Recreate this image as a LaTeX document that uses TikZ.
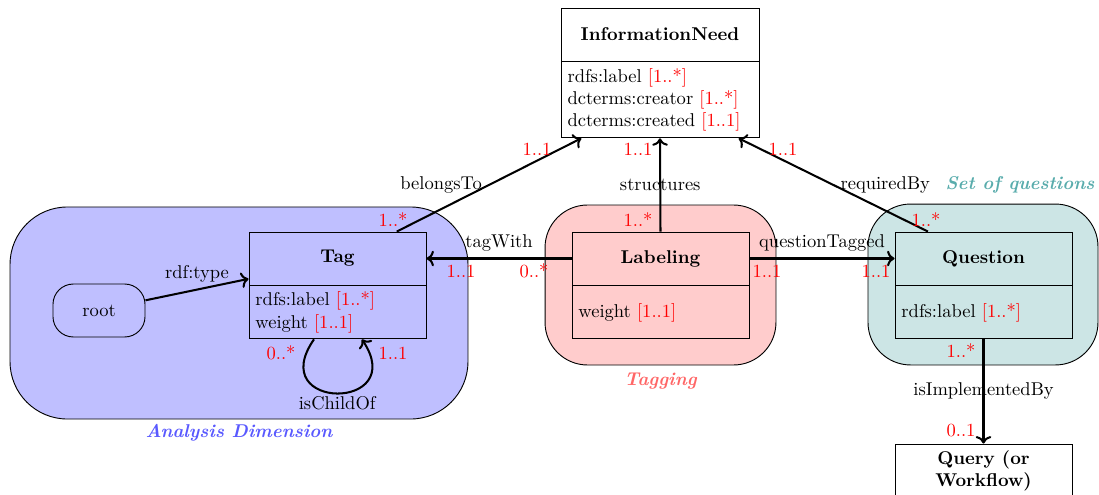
\documentclass[tikz,border=0pt]{standalone}
\usetikzlibrary{arrows.meta}
\begin{document}
\begin{tikzpicture}[x=0.54pt,y=-0.54pt,
  ctitle/.style={draw, line width=0.5pt, minimum width=95.6pt, minimum height=28.6pt, inner sep=0pt, font=\bfseries, align=center},
  cattr/.style={draw, line width=0.5pt, anchor=north, minimum height=28.6pt, inner xsep=3.5pt, inner ysep=0pt, text width=88.6pt, align=left},
  assoc/.style={line width=1.1pt, ->},
  mult/.style={text=red, inner sep=0pt},
  blob/.style={draw, line width=0.5pt},
  bloblabel/.style={font=\bfseries\itshape, inner sep=0pt}
]
\useasboundingbox (0,0) rectangle (1099,495);

% group blobs
\node[blob, fill=blue!25, rounded corners=31pt, minimum width=247.3pt, minimum height=114.5pt] (adim) at (239,313) {};
\node[blob, fill=red!20, rounded corners=23pt, minimum width=124.7pt, minimum height=86.4pt] (tagging) at (660.5,285) {};
\node[blob, fill=teal!20, rounded corners=23pt, minimum width=124.2pt, minimum height=86.9pt] (qset) at (983,284.5) {};
\node[bloblabel, text=blue!65] (adimlbl) at (239,433) {Analysis Dimension};
\node[bloblabel, text=red!60] (tagginglbl) at (660.5,381) {Tagging};
\node[bloblabel, text=teal!65] (qsetlbl) at (1020,185) {Set of questions};

% classes
\node[ctitle, fill=white, minimum width=106.9pt] (info) at (660,34.5) {InformationNeed};
\node[cattr, fill=white, minimum height=41pt, text width=99.9pt] (infoattr) at (info.south)
  {rdfs:label \textcolor{red}{[1..*]}\\dcterms:creator \textcolor{red}{[1..*]}\\dcterms:created \textcolor{red}{[1..1]}};

\node[ctitle] (tag) at (337.5,258.5) {Tag};
\node[cattr] (tagattr) at (tag.south) {rdfs:label \textcolor{red}{[1..*]}\\weight \textcolor{red}{[1..1]}};

\node[ctitle] (lab) at (660.5,258.5) {Labeling};
\node[cattr] (labattr) at (lab.south) {weight \textcolor{red}{[1..1]}};

\node[ctitle] (ques) at (983.5,258.5) {Question};
\node[cattr] (quesattr) at (ques.south) {rdfs:label \textcolor{red}{[1..*]}};

\node[ctitle, fill=white] (query) at (983.5,470.5) {Query (or\\Workflow)};

\node[draw, line width=0.5pt, rounded corners=11pt, minimum width=49.7pt, minimum height=28.6pt] (root) at (99,310.5) {root};

% connectors
\draw[assoc] ([xshift=32pt]tag.north) -- node[pos=0.5, left] (lbelongs) {belongsTo} ([xshift=-42.5pt]infoattr.south);
\draw[assoc] (lab.north) -- node[pos=0.5] (lstruct) {structures} (infoattr.south);
\draw[assoc] ([xshift=-30pt]ques.north) -- node[pos=0.5, right] (lreq) {requiredBy} ([xshift=42.5pt]infoattr.south);
\draw[assoc] (lab.west) -- node[above] (ltagwith) {tagWith} (tag.east);
\draw[assoc] (lab.east) -- node[above] (lqtag) {questionTagged} (ques.west);
\draw[assoc] ([yshift=5.5pt]root.east) -- node[above] (ltype) {rdf:type} ([yshift=-11pt]tag.west);
\draw[assoc] ([xshift=-12.7pt]tagattr.south) .. controls +(-50,72) and +(48,72) .. node[pos=0.5, below, yshift=2pt] (lchild) {isChildOf} ([xshift=13.2pt]tagattr.south);
\draw[assoc] (quesattr.south) -- node[pos=0.5] (limpl) {isImplementedBy} (query.north);

% multiplicities
\node[mult] (m1) at (393,220) {1..*};
\node[mult] (m2) at (537,149) {1..1};
\node[mult] (m3) at (638,220) {1..*};
\node[mult] (m4) at (638,149) {1..1};
\node[mult] (m5) at (926,220) {1..*};
\node[mult] (m6) at (783,149) {1..1};
\node[mult] (m7) at (534,271) {0..*};
\node[mult] (m8) at (461,271) {1..1};
\node[mult] (m9) at (767,271) {1..1};
\node[mult] (m10) at (876,271) {1..1};
\node[mult] (m11) at (281,353) {0..*};
\node[mult] (m12) at (393,353) {1..1};
\node[mult] (m13) at (961,351) {1..*};
\node[mult] (m14) at (961,431) {0..1};
\end{tikzpicture}
\end{document}
